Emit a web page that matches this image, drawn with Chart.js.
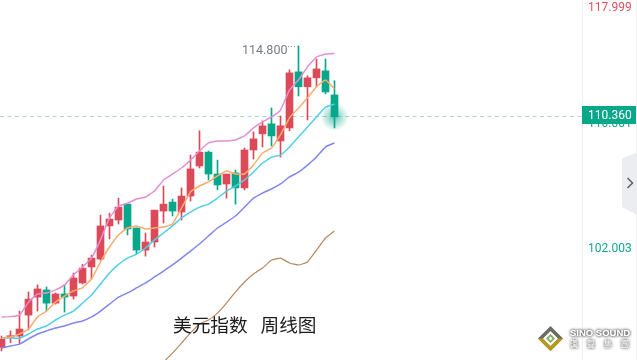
<!DOCTYPE html>
<html>
<head>
<meta charset="utf-8">
<style>html,body{margin:0;padding:0;background:#fff}canvas{display:block}</style>
<script src="https://cdn.jsdelivr.net/npm/chart.js@4"></script>
</head>
<body>
<canvas id="c" width="637" height="360"></canvas>
<script>
const opens  = [96.01,96.60,96.67,97.90,98.97,99.40,98.61,99.16,99.03,99.82,100.79,101.27,103.32,103.69,104.69,103.19,101.82,102.32,104.25,104.82,104.19,105.20,107.13,108.03,106.61,105.97,106.68,105.72,108.17,109.23,109.89,108.76,109.62,113.40,112.38,112.99,113.47,111.83];
const closes = [96.48,96.69,97.08,98.85,99.46,98.61,99.16,98.97,100.12,100.72,101.33,103.32,103.75,104.50,103.13,101.82,102.32,104.31,104.69,104.25,105.20,106.94,108.03,106.61,105.91,106.61,105.72,108.17,108.90,109.76,109.09,109.76,113.33,112.38,112.99,113.60,112.03,110.36];
const highs  = [96.67,96.97,98.14,99.28,99.70,99.58,99.22,99.70,100.42,100.95,101.51,104.00,104.12,105.07,104.69,103.19,102.88,104.31,105.84,105.01,105.72,107.84,109.43,108.10,107.51,106.61,106.87,108.30,109.36,110.09,110.95,110.42,113.54,115.19,113.13,114.28,114.28,112.79];
const lows   = [95.81,96.28,96.24,97.02,98.14,98.15,98.55,98.08,98.85,99.76,100.06,101.21,102.51,103.44,102.76,101.57,101.45,102.01,103.50,103.94,103.69,104.88,107.00,106.23,105.59,105.07,104.69,105.59,107.58,108.37,108.43,107.71,109.43,111.76,110.15,112.38,111.90,109.62];
const pinkLine = [97.79,97.81,97.90,98.67,99.16,99.22,99.40,99.70,100.30,100.79,101.33,102.45,103.82,104.56,104.75,105.01,105.14,105.52,106.23,106.61,107.00,107.51,108.10,108.63,108.76,108.76,108.83,109.09,109.62,110.02,110.35,110.81,112.17,112.85,113.74,114.42,114.63,114.67];
const orangeLine = [96.55,96.61,96.79,97.08,97.79,98.14,98.67,99.03,99.34,99.52,100.06,101.09,102.01,102.76,103.19,103.32,103.13,103.19,103.25,103.44,104.43,105.46,105.84,106.10,106.49,106.81,106.61,106.61,107.19,107.97,108.30,109.16,110.29,110.94,111.63,112.38,112.85,112.24];
const cyanLine = [96.55,96.55,96.55,96.79,97.08,97.26,97.61,97.90,98.14,98.61,99.09,99.76,100.42,100.95,101.33,101.57,101.95,102.45,102.88,103.32,103.82,104.19,104.50,104.69,105.07,105.52,105.84,106.23,106.74,107.32,107.70,107.84,108.37,109.03,109.69,110.35,111.01,111.22];
const blueLine = [95.97,96.09,96.20,96.50,96.79,96.97,97.14,97.26,97.43,97.55,97.79,98.14,98.55,98.97,99.22,99.52,99.82,100.18,100.54,100.91,101.33,101.76,102.20,102.69,103.19,103.56,103.94,104.50,105.07,105.39,105.65,105.97,106.42,106.74,107.19,107.71,108.37,108.63];
const brownLine = [null,null,null,null,null,null,null,null,null,null,null,null,null,null,null,null,null,null,95.15,95.68,96.26,96.85,97.38,97.61,98.02,98.61,99.28,99.88,100.36,100.72,101.21,101.33,101.03,100.91,101.09,101.82,102.57,103.01];
const tickValues = [117.999,110.001,102.003];
const lastPrice = 110.36;
const highLabel = "114.800";
const highValue = 115.19;
const title = "美元指数  周线图";

const RED = "#dc4a59", GREEN = "#07a78a";
const candleColors = closes.map((c,i)=> c>=opens[i] ? RED : GREEN);
const barPts = (a,b)=> a.map((v,i)=>({x:i,y:[Math.min(v,b[i]),Math.max(v,b[i])]}));
const linePts = a => a.map((v,i)=>({x:i,y:v}));
const lineDs = (d,color,w)=>({type:"line",data:linePts(d),borderColor:color,borderWidth:w,pointRadius:0,tension:0.1,order:0,spanGaps:false});

const overlay = {
  id:"overlay",
  beforeDatasetsDraw(chart){
    const c = chart.ctx, y = chart.scales.y, x = chart.scales.x, a = chart.chartArea;
    const py = y.getPixelForValue(lastPrice);
    c.save();
    c.strokeStyle = "#a8d8cd"; c.lineWidth = 1; c.setLineDash([4,3.5]);
    c.beginPath(); c.moveTo(0,Math.floor(py)+0.5); c.lineTo(a.right,Math.floor(py)+0.5); c.stroke();
    c.setLineDash([]);
    const gx = x.getPixelForValue(opens.length-1);
    const g = c.createRadialGradient(gx,py,1,gx,py,14);
    g.addColorStop(0,"rgba(7,167,138,0.6)"); g.addColorStop(1,"rgba(7,167,138,0)");
    c.fillStyle = g; c.beginPath(); c.arc(gx,py,14,0,Math.PI*2); c.fill();
    c.restore();
  },
  afterDraw(chart){
    const c = chart.ctx, y = chart.scales.y, x = chart.scales.x;
    const py = y.getPixelForValue(lastPrice);
    c.save();
    // right edge
    c.strokeStyle = "#f0f0f0"; c.lineWidth = 1;
    c.beginPath(); c.moveTo(636.5,0); c.lineTo(636.5,360); c.stroke();
    // price box
    c.fillStyle = GREEN; c.fillRect(582,Math.floor(py)-10,54,18);
    c.fillStyle = "#fff"; c.font = "12px Roboto"; c.textAlign = "left"; c.textBaseline = "middle";
    c.fillText("110.360",588,Math.floor(py)-0.5);
    // high annotation
    const hy = Math.round(y.getPixelForValue(highValue));
    const hx = x.getPixelForValue(33);
    c.strokeStyle = "#8a8e99"; c.setLineDash([1,2]);
    c.beginPath(); c.moveTo(288,hy+0.5); c.lineTo(hx-1,hy+0.5); c.stroke(); c.setLineDash([]);
    c.fillStyle = "#787c88"; c.font = "12.5px Roboto"; c.textAlign = "left";
    c.fillText(highLabel,242,hy+4.5);
    // title
    c.fillStyle = "#1c1c1c"; c.font = "18.7px 'Noto Sans CJK SC'"; c.textBaseline = "middle";
    c.fillText("美元指数",173,324.5);
    c.fillText("周线图",260.5,324.5);
    // side tab
    c.fillStyle = "#ecedf0";
    c.beginPath(); c.moveTo(637,152.5); c.lineTo(622,158.5); c.lineTo(622,207); c.lineTo(637,215); c.closePath(); c.fill();
    c.strokeStyle = "#5f6375"; c.lineWidth = 1.6;
    c.beginPath(); c.moveTo(627.5,178); c.lineTo(632.5,183); c.lineTo(627.5,188); c.stroke();
    // logo
    const d = (pts,col)=>{c.fillStyle=col;c.beginPath();pts.forEach((p,i)=>i?c.lineTo(p[0],p[1]):c.moveTo(p[0],p[1]));c.closePath();c.fill();};
    d([[550.5,326],[538,338.5],[550.5,351],[563,338.5]],"#6d6a62");
    d([[538,338.5],[550.5,351],[563,338.5],[558,338.5],[550.5,346],[543,338.5]],"#b59a1e");
    d([[550.5,331],[543,338.5],[550.5,346],[558,338.5]],"#ffffff");
    d([[550.5,334],[546,338.5],[550.5,343],[555,338.5]],"#7fae5a");
    d([[550.5,336.5],[548.5,338.5],[550.5,340.5],[552.5,338.5]],"#ffffff");
    c.shadowColor = "rgba(60,60,60,1)"; c.shadowBlur = 3;
    c.fillStyle = "#fff"; c.font = "bold 9.5px 'Liberation Sans'"; c.textBaseline="middle";
    c.fillText("SINO SOUND",570,333.5);
    c.fillText("SINO SOUND",570,333.5);
    c.font = "8px 'Noto Sans CJK TC'";
    ["漢","聲","集","團"].forEach((t,i)=>{c.fillText(t,570+i*17,344);c.fillText(t,570+i*17,344);});
    c.restore();
  }
};

new Chart(document.getElementById("c"),{
  data:{datasets:[
    lineDs(pinkLine,"#e28fd5",1.5),
    lineDs(orangeLine,"#fbab6e",1.5),
    lineDs(cyanLine,"#52cfe6",1.5),
    lineDs(blueLine,"#8286f1",1.5),
    lineDs(brownLine,"#b98862",1.2),
    {type:"bar",data:barPts(lows,highs),backgroundColor:candleColors,barThickness:1,grouped:false,order:2},
    {type:"bar",data:barPts(opens,closes),backgroundColor:candleColors,barThickness:7,grouped:false,order:1}
  ]},
  options:{
    responsive:false,animation:false,
    layout:{padding:0},
    plugins:{legend:{display:false},tooltip:{enabled:false}},
    scales:{
      x:{type:"linear",display:false,offset:false,min:-1.5/9,max:580.5/9},
      y:{type:"logarithmic",position:"right",min:95.28,max:118.43,bounds:"data",
        grid:{display:false,drawTicks:false},
        border:{display:true,color:"#eeeeee"},
        afterFit(s){s.width=55;s.paddingTop=0;s.paddingBottom=0;},
        afterBuildTicks(s){s.ticks=tickValues.map(v=>({value:v}));},
        ticks:{autoSkip:false,padding:6,labelOffset:2,font:{family:"Roboto",size:12},
          color:ctx=>ctx.tick && ctx.tick.value>115 ? "#e2505f" : "#12a88b",
          callback:v=>Number(v).toFixed(3)}
      }
    }
  },
  plugins:[overlay]
});
</script>
</body>
</html>
